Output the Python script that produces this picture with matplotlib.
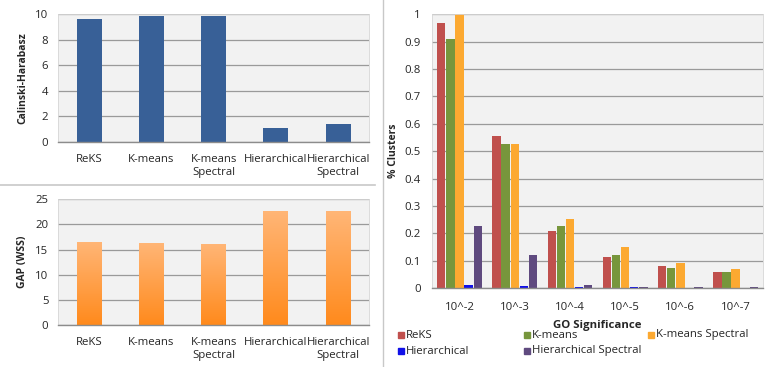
import matplotlib

matplotlib.use("Agg")
import matplotlib.pyplot as plt
import numpy as np
from matplotlib.lines import Line2D
from matplotlib.patches import Rectangle

METHODS = ["ReKS", "K-means", "K-means\nSpectral", "Hierarchical", "Hierarchical\nSpectral"]
CALINSKI = [9.65, 9.85, 9.9, 1.1, 1.45]
GAP_WSS = [16.5, 16.3, 16.2, 22.7, 22.6]

GO_LEVELS = ["10^-2", "10^-3", "10^-4", "10^-5", "10^-6", "10^-7"]
SERIES = ["ReKS", "K-means", "K-means Spectral", "Hierarchical", "Hierarchical Spectral"]
REKS = [0.97, 0.555, 0.208, 0.115, 0.08, 0.058]
KMEANS = [0.91, 0.525, 0.225, 0.122, 0.075, 0.058]
KMEANS_SPECTRAL = [1.0, 0.525, 0.252, 0.15, 0.092, 0.07]
HIERARCHICAL = [0.01, 0.008, 0.005, 0.003, 0.0, 0.0]
HIER_SPECTRAL = [0.225, 0.12, 0.012, 0.005, 0.003, 0.003]

TEXT = "#262626"
GRID = "#9A9A9A"
PLOT_BG = "#F2F2F2"
BLUE = "#386097"
SERIES_COLORS = ["#C0504D", "#77963C", "#FCA931", "#1010E8", "#5F4A7F"]
FS = 8.2

plt.rcParams.update({
    "font.family": ["Open Sans", "DejaVu Sans"],
    "font.size": FS,
    "text.color": TEXT,
    "xtick.color": TEXT,
    "ytick.color": TEXT,
    "axes.labelcolor": TEXT,
})


def style_axes(ax):
    ax.set_facecolor(PLOT_BG)
    ax.grid(axis="y", color=GRID, linewidth=0.9, zorder=0)
    ax.set_axisbelow(True)
    for side in ["top", "right", "left"]:
        ax.spines[side].set_color("#D6D6D6")
        ax.spines[side].set_linewidth(0.6)
    ax.spines["bottom"].set_color("#8C8C8C")
    ax.spines["bottom"].set_linewidth(1.0)
    ax.tick_params(length=0, labelsize=FS)


fig = plt.figure(figsize=(7.74, 3.67), dpi=100)

# top left: Calinski-Harabasz
ax1 = fig.add_axes([0.075, 0.613, 0.402, 0.348])
style_axes(ax1)
x = np.arange(len(METHODS))
ax1.bar(x, CALINSKI, width=0.4, color=BLUE, zorder=2)
ax1.set_xlim(-0.5, len(METHODS) - 0.5)
ax1.set_ylim(0, 10)
ax1.set_yticks(range(0, 11, 2))
ax1.set_xticks(x, METHODS, linespacing=1.25)
ax1.tick_params(axis="x", pad=8.5)
ax1.tick_params(axis="y", pad=7)
ax1.set_ylabel("Calinski-Harabasz", fontweight="bold", fontsize=7.5, labelpad=5)

# bottom left: GAP (WSS) with gradient bars
ax2 = fig.add_axes([0.075, 0.114, 0.402, 0.343])
style_axes(ax2)
bars = ax2.bar(x, GAP_WSS, width=0.4, color="none", zorder=2)
grad = np.linspace(1, 0, 256).reshape(-1, 1)
cmap = matplotlib.colors.LinearSegmentedColormap.from_list("org", ["#FF8A1C", "#FFB677"])
for b in bars:
    x0, y0 = b.get_x(), b.get_y()
    im = ax2.imshow(grad, extent=[x0, x0 + b.get_width(), y0, y0 + b.get_height()],
                    aspect="auto", cmap=cmap, zorder=2)
    im.set_clip_path(b)
ax2.set_xlim(-0.5, len(METHODS) - 0.5)
ax2.set_ylim(0, 25)
ax2.set_yticks(range(0, 26, 5))
ax2.set_xticks(x, METHODS, linespacing=1.25)
ax2.tick_params(axis="x", pad=8.5)
ax2.tick_params(axis="y", pad=7)
ax2.set_ylabel("GAP (WSS)", fontweight="bold", fontsize=7.5, labelpad=5)

# right: % clusters by GO significance
ax3 = fig.add_axes([0.558, 0.215, 0.428, 0.746])
style_axes(ax3)
gx = np.arange(len(GO_LEVELS))
values = [REKS, KMEANS, KMEANS_SPECTRAL, HIERARCHICAL, HIER_SPECTRAL]
w = 0.165
for i, (vals, color) in enumerate(zip(values, SERIES_COLORS)):
    ax3.bar(gx + (i - 2) * w, vals, width=w * 0.92, color=color, zorder=2)
ax3.set_xlim(-0.5, len(GO_LEVELS) - 0.5)
ax3.set_ylim(0, 1)
yt = np.round(np.arange(0, 1.01, 0.1), 1)
ax3.set_yticks(yt, ["0" if v == 0 else "1" if v == 1 else f"{v:.1f}" for v in yt])
ax3.set_xticks(gx, GO_LEVELS)
ax3.tick_params(axis="x", pad=10)
ax3.tick_params(axis="y", pad=8)
ax3.set_ylabel("% Clusters", fontweight="bold", fontsize=7.5, labelpad=4)
ax3.set_xlabel("GO Significance", fontweight="bold", fontsize=FS, labelpad=5)

# hand-made legend, laid out in rows like the original
legend_pos = [(401, 335), (527, 335), (651, 335), (401, 351), (527, 351)]
W, H = 774, 367
for (px, py), name, color in zip(legend_pos, SERIES, SERIES_COLORS):
    fig.add_artist(Rectangle(((px - 3) / W, 1 - (py + 3) / H), 6 / W, 6 / H,
                             transform=fig.transFigure, color=color))
    fig.text((px + 5) / W, 1 - py / H, name, va="center", ha="left", fontsize=FS)

# panel separators
fig.add_artist(Line2D([0, 375 / W], [1 - 185 / H] * 2, transform=fig.transFigure,
                      color="#C8C8C8", linewidth=1.2))
fig.add_artist(Line2D([383 / W] * 2, [0, 1], transform=fig.transFigure,
                      color="#C8C8C8", linewidth=1.0))

fig.savefig("out.png", dpi=100)
